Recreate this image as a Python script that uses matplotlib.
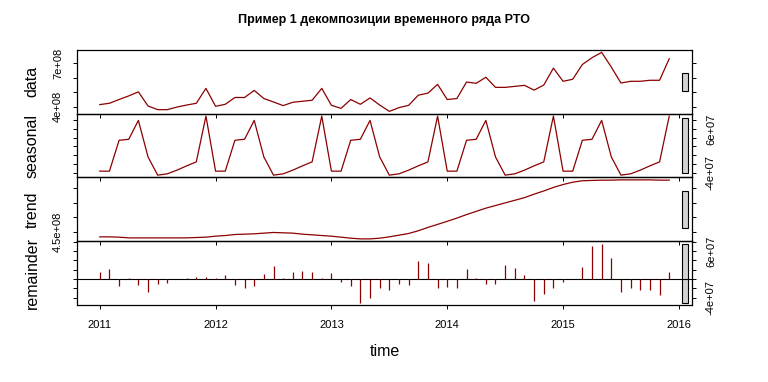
import numpy as np
import matplotlib.pyplot as plt
from matplotlib.patches import Rectangle

plt.rcParams['font.family'] = ['Liberation Sans', 'DejaVu Sans']

# monthly series, Jan 2011 .. Dec 2015 (values in millions)
start_year = 2011
n_months = 60
years = [2011, 2012, 2013, 2014, 2015, 2016]

data = [414, 423, 449, 474, 502, 404, 379, 379, 397, 411, 423, 526,
        402, 416, 463, 463, 512, 456, 432, 407, 430, 437, 444, 526,
        409, 388, 449, 416, 460, 411, 367, 393, 409, 479, 493, 554,
        449, 456, 570, 561, 603, 533, 533, 540, 547, 514, 549, 666,
        575, 589, 691, 738, 775, 673, 563, 575, 575, 582, 582, 731]

seasonal = [-36.4, -36.4, 34.1, 36.4, 79.5, -3.9, -45.5, -42.5, -34.1, -24.3, -15.2, 89.3,
            -36.4, -36.4, 34.1, 36.4, 79.5, -3.9, -45.5, -42.5, -34.1, -24.3, -15.2, 89.3,
            -36.4, -36.4, 34.1, 36.4, 79.5, -3.9, -45.5, -42.5, -34.1, -24.3, -15.2, 89.3,
            -36.4, -36.4, 34.1, 36.4, 79.5, -3.9, -45.5, -42.5, -34.1, -24.3, -15.2, 89.3,
            -36.4, -36.4, 34.1, 36.4, 79.5, -3.9, -45.5, -42.5, -34.1, -24.3, -15.2, 89.3]

trend = [432.7, 432.7, 431.6, 429.2, 429.2, 429.2, 429.2, 429.2, 429.2, 429.2, 430.4, 431.6,
         435.0, 437.2, 440.7, 441.9, 443.1, 445.4, 447.7, 446.5, 445.4, 441.9, 439.6, 437.2,
         435.0, 431.6, 428.1, 425.7, 425.7, 428.1, 432.7, 438.4, 444.2, 453.5, 465.0, 475.4,
         486, 497, 509, 520, 531, 540, 549, 558, 567, 579, 590, 602,
         612, 620, 625, 626, 627, 627, 628, 628, 628, 628, 627, 627]

remainder = [15.5, 21.9, -14.1, 2.8, -12.0, -28.9, -9.9, -7.8, 0.5, 2.8, 4.9, 4.9,
             2.8, 9.2, -12.0, -20.4, -14.8, 10.6, 27.5, 2.8, 15.5, 16.9, 15.5, 2.8,
             13.4, -5.6, -14.1, -50.8, -41.6, -19.7, -24.7, -9.9,
             -12.0, 38.1, 33.8, -18.3, -16.2, -18.3, 21.2, 2.8, -9.9, -9.9, 29.6, 24.0,
             8.5, -47.9, -33.1, -19.7,
             -5.6, -1.0, 25.4, 71.9, 76.1, 44.4, -28.9, -18.3, -22.6, -24.7, -35.3, 14.8]

panel_names = ['data', 'seasonal', 'trend', 'remainder']
series = [np.array(s) * 1e6 for s in (data, seasonal, trend, remainder)]

# ticks and the labels R kept on each panel
yticks = [[4e8, 5e8, 6e8, 7e8],
          [-4e7, -2e7, 0, 2e7, 4e7, 6e7, 8e7],
          [4.5e8, 5e8, 5.5e8, 6e8],
          [-4e7, -2e7, 0, 2e7, 4e7, 6e7, 8e7]]
ylabels = [['4e+08', '', '', '7e+08'],
           ['-4e+07', '', '', '', '', '6e+07', ''],
           ['4.5e+08', '', '', ''],
           ['-4e+07', '', '', '', '', '6e+07', '']]

line_col = '#8B0000'
W, H = 768, 382
fig = plt.figure(figsize=(W / 100, H / 100), dpi=100)

t = start_year + np.arange(n_months) / 12
x0, x1 = t.min(), t.max()
xlim = (x0 - 0.04 * (x1 - x0), x1 + 0.04 * (x1 - x0))
mx = min(s.max() - s.min() for s in series)

left, right = 77, 692
top, bottom = 50, 305
ph = (bottom - top) / 4

for i, (name, s) in enumerate(zip(panel_names, series)):
    ax = fig.add_axes([left / W, 1 - (top + ph * (i + 1)) / H, (right - left) / W, ph / H])
    ax.patch.set_visible(False)
    if i < 3:
        ax.plot(t, s, color=line_col, lw=0.9)
    else:
        ax.axhline(0, color='black', lw=0.8)
        ax.vlines(t, 0, s, color=line_col, lw=0.9)
    lo, hi = s.min(), s.max()
    pad = 0.04 * (hi - lo)
    ax.set_ylim(lo - pad, hi + pad)
    ax.set_xlim(*xlim)

    # range bar
    dx = (xlim[1] - xlim[0]) / 64
    yc = (lo + hi) / 2
    ax.add_patch(Rectangle((xlim[1] - dx, yc - mx / 2), 0.6 * dx, mx,
                           facecolor='lightgray', edgecolor='black', lw=0.8, clip_on=False))

    for sp in ax.spines.values():
        sp.set_linewidth(0.9)

    ax.set_yticks(yticks[i])
    ax.set_yticklabels(ylabels[i])
    on_right = (i % 2 == 1)
    ax.tick_params(axis='y', left=True, right=True, labelleft=not on_right,
                   labelright=on_right, direction='out', length=3, width=0.7,
                   labelsize=8, pad=7, labelrotation=90)
    for tk in ax.yaxis.get_major_ticks():
        tk.label1.set_va('center')
        tk.label2.set_va('center')

    ax.set_xticks(years)
    ax.set_xticklabels([str(y) for y in years])
    ax.tick_params(axis='x', direction='out', length=3, width=0.7,
                   labelbottom=(i == 3), labelsize=8, pad=8)

    fig.text(32 / W, 1 - (top + ph * (i + 0.5)) / H, name, rotation=90,
             ha='center', va='center', fontsize=11.5)

fig.text((left + right) / 2 / W, 1 - 20 / H, 'Пример 1 декомпозиции временного ряда РТО',
         ha='center', va='center', fontsize=9, fontweight='bold')
fig.text((left + right) / 2 / W, 1 - 351 / H, 'time', ha='center', va='center', fontsize=11.5)

fig.savefig('out.png', dpi=100)
